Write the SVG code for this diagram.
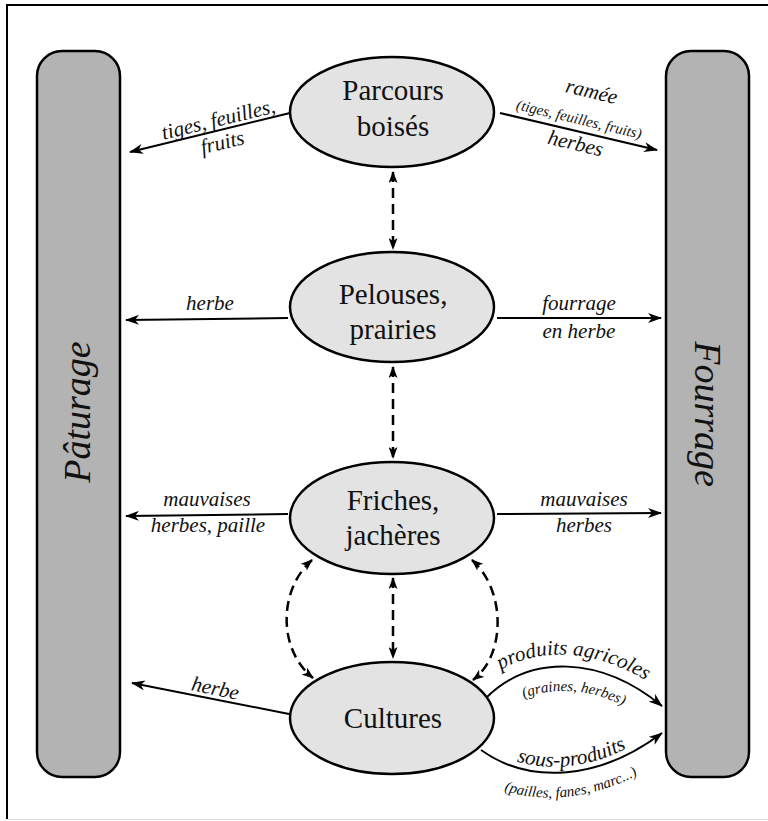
<svg xmlns="http://www.w3.org/2000/svg" width="768" height="821" viewBox="0 0 768 821" font-family="Liberation Serif, Times New Roman, Times, serif">
<style>
.bar{fill:#b3b3b3;stroke:#000;stroke-width:2.5}
.node{fill:#e3e3e3;stroke:#000;stroke-width:2.5}
.nt{font-size:29px;fill:#111;text-anchor:middle}
.bt{font-style:italic;font-size:38px;fill:#111;text-anchor:middle}
.lb{font-style:italic;font-size:21px;fill:#111;text-anchor:middle}
.sm{font-style:italic;font-size:15px;fill:#111;text-anchor:middle}
.flow{fill:none;stroke:#000;stroke-width:2;marker-end:url(#ah)}
.dash{fill:none;stroke:#000;stroke-width:2.5;stroke-dasharray:10,6;marker-start:url(#dh);marker-end:url(#dh)}
</style>
<defs>
<marker id="ah" viewBox="0 0 14 10" refX="13" refY="5" markerWidth="14" markerHeight="10" markerUnits="userSpaceOnUse" orient="auto-start-reverse">
<path d="M0,0 L14,5 L0,10 L4,5 z" fill="#000"/>
</marker>
<marker id="dh" viewBox="0 0 12 9" refX="11" refY="4.5" markerWidth="12" markerHeight="9" markerUnits="userSpaceOnUse" orient="auto-start-reverse">
<path d="M0,0 L12,4.5 L0,9 L3,4.5 z" fill="#000"/>
</marker>
<path id="tp1" d="M480,685 C525,643 600,643 667,695"/>
<path id="tp2" d="M489,720 C530,680 600,680 658,728"/>
<path id="tp3" d="M481,744 C530,779 600,774 660,727"/>
<path id="tp4" d="M471,775 C525,810 600,805 669,756"/>
</defs>
<rect x="0" y="0" width="768" height="821" fill="#fff"/>
<path d="M7,819 V5 H768" fill="none" stroke="#000" stroke-width="2"/>
<line x1="7" y1="819.5" x2="768" y2="819.5" stroke="#ddd" stroke-width="1"/>

<g id="paturage">
<rect class="bar" x="37" y="51" width="83" height="726" rx="25"/>
<text class="bt" transform="translate(90,412) rotate(-90)">Pâturage</text>
</g>
<g id="fourrage">
<rect class="bar" x="666" y="51" width="83" height="726" rx="25"/>
<text class="bt" transform="translate(695,414) rotate(90)">Fourrage</text>
</g>

<g id="parcours">
<ellipse class="node" cx="392" cy="112" rx="102" ry="55"/>
<text class="nt" x="393" y="100">Parcours</text>
<text class="nt" x="393" y="136">boisés</text>
</g>
<g id="pelouses">
<ellipse class="node" cx="392" cy="307" rx="102" ry="55"/>
<text class="nt" x="393" y="304">Pelouses,</text>
<text class="nt" x="393" y="339">prairies</text>
</g>
<g id="friches">
<ellipse class="node" cx="392" cy="518" rx="102" ry="56"/>
<text class="nt" x="393" y="510">Friches,</text>
<text class="nt" x="393" y="545">jachères</text>
</g>
<g id="cultures">
<ellipse class="node" cx="392" cy="718" rx="102" ry="56"/>
<text class="nt" x="393" y="728">Cultures</text>
</g>

<g id="connectors">
<line class="flow" x1="290" y1="113" x2="130" y2="152"/>
<line class="flow" x1="500" y1="113" x2="657" y2="150"/>
<line class="flow" x1="288" y1="318" x2="126" y2="320"/>
<line class="flow" x1="497" y1="318" x2="661" y2="318"/>
<line class="flow" x1="288" y1="514" x2="126" y2="516"/>
<line class="flow" x1="497" y1="514" x2="661" y2="513"/>
<line class="flow" x1="289" y1="714" x2="132" y2="683"/>
<path class="flow" d="M487,697 C530,655 600,655 662,706"/>
<path class="flow" d="M481,750 C530,785 600,780 662,733"/>

<line class="dash" x1="393" y1="172" x2="393" y2="249"/>
<line class="dash" x1="393" y1="367" x2="393" y2="458"/>
<line class="dash" x1="393" y1="578" x2="393" y2="658"/>
<path class="dash" d="M312,560 C278,590 278,650 313,678"/>
<path class="dash" d="M472,560 C506,590 506,655 473,680"/>

<text class="lb" transform="rotate(-13.7 220 126)" x="220" y="126">tiges, feuilles,</text>
<text class="lb" transform="rotate(-13.7 224 149)" x="224" y="149">fruits</text>
<text class="lb" transform="rotate(13.4 590 98)" x="590" y="98">ramée</text>
<text class="sm" transform="rotate(13.4 578 124)" x="578" y="124">(tiges, feuilles, fruits)</text>
<text class="lb" transform="rotate(13.4 574 150)" x="574" y="150">herbes</text>

<text class="lb" x="210" y="310">herbe</text>
<text class="lb" x="579" y="310">fourrage</text>
<text class="lb" x="579" y="338">en herbe</text>

<text class="lb" x="207" y="506">mauvaises</text>
<text class="lb" x="208" y="532">herbes, paille</text>
<text class="lb" x="584" y="506">mauvaises</text>
<text class="lb" x="584" y="532">herbes</text>

<text class="lb" transform="rotate(12 214 695)" x="214" y="695">herbe</text>
<text class="lb"><textPath href="#tp1" startOffset="50%">produits agricoles</textPath></text>
<text class="sm"><textPath href="#tp2" startOffset="50%">(graines, herbes)</textPath></text>
<text class="lb"><textPath href="#tp3" startOffset="50%">sous-produits</textPath></text>
<text class="sm"><textPath href="#tp4" startOffset="50%">(pailles, fanes, marc...)</textPath></text>
</g>
</svg>
